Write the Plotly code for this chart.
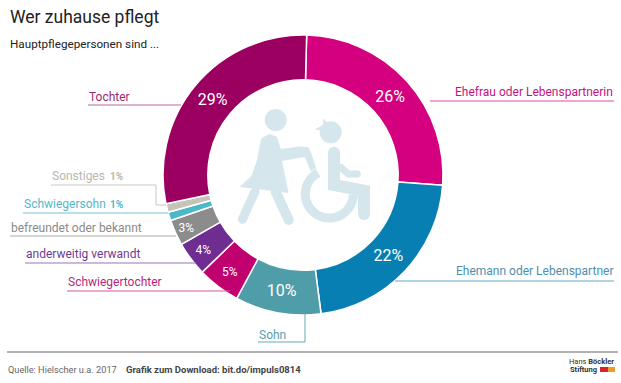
import numpy as np
import plotly.graph_objects as go

W, H = 621, 383
categories = ["Ehefrau oder Lebenspartnerin", "Ehemann oder Lebenspartner", "Sohn", "Schwiegertochter",
              "anderweitig verwandt", "befreundet oder bekannt", "Schwiegersohn", "Sonstiges", "Tochter"]
values = [26, 22, 10, 5, 4, 3, 1, 1, 29]
slice_text = ["26%", "22%", "10%", "5%", "4%", "3%", "", "", "29%"]
slice_sizes = [16, 16, 16, 12, 12, 12, 10, 10, 16]
colors = ["#d5007f", "#087fb2", "#4f9da8", "#c1006f", "#6f2c91", "#8c8c8c", "#4db8c8", "#c6c4b8", "#9b0060"]

FONT = "Roboto, sans-serif"
ICON = "#d5e6ec"


def fx(p):
    return p / W


def fy(p):
    return 1 - p / H


fig = go.Figure(go.Pie(
    labels=categories, values=values, text=slice_text, textinfo="text", textposition="inside",
    insidetextorientation="horizontal", sort=False, direction="clockwise", rotation=1.5, hole=0.68,
    marker=dict(colors=colors, line=dict(color="white", width=1.5)),
    textfont=dict(family=FONT, color="white", size=slice_sizes),
    domain=dict(x=[fx(163), fx(443)], y=[fy(315), fy(35)]),
    showlegend=False, hoverinfo="label+text",
))

shapes = []
annotations = []


def text(x, y, s, color, size, anchor="left"):
    annotations.append(dict(x=fx(x), y=fy(y), xref="paper", yref="paper", text=s, showarrow=False,
                            xanchor=anchor, yanchor="middle", align=anchor,
                            font=dict(family=FONT, color=color, size=size), borderpad=0))


def polyline(points, color, width=1.0, closed=False, fill=None):
    d = "M " + " L ".join(f"{fx(x):.5f},{fy(y):.5f}" for x, y in points) + (" Z" if closed else "")
    shapes.append(dict(type="path", xref="paper", yref="paper", path=d, fillcolor=fill,
                       line=dict(color=color, width=width)))


def circle(cx, cy, r, color):
    shapes.append(dict(type="circle", xref="paper", yref="paper", x0=fx(cx - r), x1=fx(cx + r),
                       y0=fy(cy + r), y1=fy(cy - r), fillcolor=color, line=dict(width=0)))


# Titles
text(9, 17, "Wer zuhause pflegt", "#222222", 17.5)
text(9, 44, "Hauptpflegepersonen sind ...", "#222222", 11.7)

# Labels and leader lines
text(88, 97, "Tochter", "#9b2a70", 12)
polyline([(88, 105), (181, 105)], "#b56a98")
text(614, 92, "Ehefrau oder Lebenspartnerin", "#c9107f", 12, "right")
polyline([(430, 101), (614, 101)], "#d84fa4")
text(614, 271, "Ehemann oder Lebenspartner", "#4c8faf", 12, "right")
polyline([(395, 281), (614, 281)], "#62a9c6")
text(258, 335, "Sohn", "#5a9fae", 12)
polyline([(258, 342), (305, 342), (305, 314)], "#6aa9b3")
text(67, 282, "Schwiegertochter", "#bb1f7c", 12)
polyline([(67, 291), (230, 291)], "#cf5aa0")
text(25, 254, "anderweitig verwandt", "#6f3a96", 12)
polyline([(25, 263), (196, 263)], "#9a74b6")
text(10, 228, "befreundet oder bekannt", "#8a8a8a", 12)
polyline([(10, 236), (176, 236)], "#aaaaaa")
text(23, 204, "Schwiegersohn", "#55b8c8", 12)
text(109, 204, "<b>1%</b>", "#55b8c8", 10)
polyline([(23, 213), (168, 213)], "#70c4d0")
text(51, 176, "Sonstiges", "#b9b8ac", 12)
text(109, 176, "<b>1%</b>", "#b9b8ac", 10)
polyline([(51, 185), (156, 185), (156, 205), (166, 205)], "#c9c7bc")

# Footer
polyline([(7, 352), (618, 352)], "#999999", 1.5)
text(7, 369, "Quelle: Hielscher u.a. 2017", "#666666", 9.2)
text(125, 369, "<b>Grafik zum Download: bit.do/impuls0814</b>", "#444444", 9.5)
text(615, 361, "Hans <b>Böckler</b>", "#333333", 7.5, "right")
text(569, 369, "<b>Stiftung</b>", "#333333", 7.5)
shapes.append(dict(type="rect", xref="paper", yref="paper", x0=fx(600), x1=fx(608), y0=fy(372), y1=fy(367),
                   fillcolor="#d8232a", line=dict(width=0)))
shapes.append(dict(type="rect", xref="paper", yref="paper", x0=fx(608), x1=fx(615), y0=fy(372), y1=fy(367),
                   fillcolor="#ef9a2e", line=dict(width=0)))


# Central icon, sketched in the 3x zoom frame
def z(pts):
    return [(210 + x / 3, 90 + y / 3) for x, y in pts]


def capsule(pts, width):
    p = z(pts)
    polyline(p, ICON, width)
    circle(p[0][0], p[0][1], width / 2, ICON)
    circle(p[-1][0], p[-1][1], width / 2, ICON)


head = z([(197, 90)])[0]
circle(head[0], head[1], 11, ICON)
polyline(z([(150, 165), (155, 145), (178, 133), (200, 140), (212, 178), (270, 170), (295, 172), (305, 195),
            (318, 235), (302, 242), (285, 200), (215, 212), (235, 308), (90, 290), (125, 258), (142, 210)]),
         ICON, 0.5, True, ICON)
capsule([(135, 305), (97, 388)], 9)
capsule([(197, 305), (236, 390)], 10)

angles = np.deg2rad(np.arange(118, 364, 6))
polyline(z([(358 + 72 * np.cos(a), 312 - 72 * np.sin(a)) for a in angles]), ICON, 9)

head2 = z([(362, 127)])[0]
circle(head2[0], head2[1], 11, ICON)
polyline(z([(340, 88), (352, 100), (318, 118), (345, 118)]), ICON, 1, True, ICON)
capsule([(372, 188), (372, 285), (462, 302), (462, 372)], 12)
capsule([(392, 232), (415, 252), (442, 252)], 7)

fig.update_layout(width=W, height=H, margin=dict(l=0, r=0, t=0, b=0), paper_bgcolor="white",
                  shapes=shapes, annotations=annotations, autosize=False)
fig.write_html("out.html", config=dict(displayModeBar=False),
               post_script="document.body.style.margin='0';document.body.style.overflow='hidden';")
